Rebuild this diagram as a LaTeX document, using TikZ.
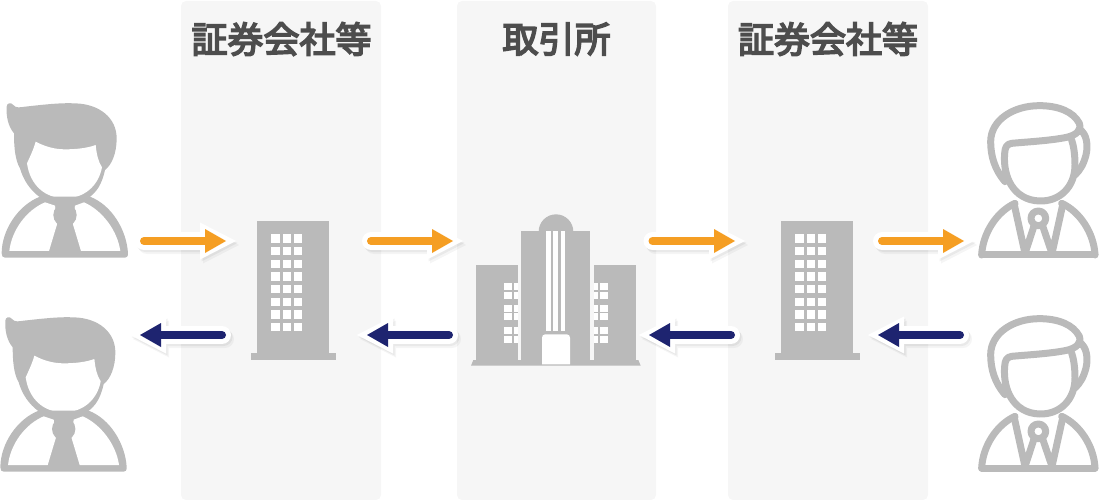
\documentclass[tikz,border=0pt]{standalone}
\usepackage{fontspec}
\newfontfamily\cjk[FakeBold=4.5]{Noto Sans CJK JP}
\usetikzlibrary{calc}
\definecolor{panelc}{HTML}{F6F6F6}
\definecolor{iconc}{HTML}{BABABA}
\definecolor{textc}{HTML}{4D4D4D}
\definecolor{orangec}{HTML}{F59E23}
\definecolor{navyc}{HTML}{1E2470}
\tikzset{
  panel/.style={fill=panelc,draw=none,rounded corners=5pt,minimum height=499pt,anchor=north,inner sep=0pt,outer sep=0pt},
  paneltitle/.style={font=\cjk\fontsize{36}{36}\selectfont,text=textc,inner sep=0pt},
  icon/.style={fill=iconc,draw=none},
  hole/.style={fill=white,draw=none},
  strokeicon/.style={draw=iconc,fill=none,line width=7pt,line join=round,line cap=round},
  pics/personA/.style={code={
    \begin{scope}[scale=1/3]
    \path[icon] (20,50) .. controls (20,40) and (32,35) .. (40,45) .. controls (48,55) and (60,52) .. (75,50)
      .. controls (130,44) and (180,38) .. (225,40) .. controls (300,42) and (350,85) .. (350,145)
      .. controls (350,190) and (335,225) .. (315,240) .. controls (305,285) and (290,305) .. (268,322)
      -- (120,322) .. controls (90,300) and (70,270) .. (60,235) .. controls (45,210) and (42,170) .. (42,130)
      .. controls (25,110) and (18,80) .. (20,50) -- cycle;
    \path[hole] (107,155) .. controls (135,170) and (165,178) .. (195,178) .. controls (225,178) and (260,175) .. (287,165)
      .. controls (290,195) and (295,215) .. (306,232) .. controls (295,290) and (250,325) .. (195,325)
      .. controls (135,325) and (90,285) .. (81,220) .. controls (90,200) and (100,180) .. (107,155) -- cycle;
    \path[icon] (5,490) .. controls (5,420) and (55,345) .. (120,320) -- (270,320)
      .. controls (335,345) and (380,420) .. (384,490) .. controls (384,500) and (380,503) .. (375,503)
      -- (15,503) .. controls (8,503) and (5,498) .. (5,490) -- cycle;
    \path[hole] (28,483) .. controls (35,420) and (80,360) .. (135,337) -- (165,347) -- (172,400) -- (147,483) -- cycle;
    \path[hole] (361,483) .. controls (352,420) and (305,360) .. (252,337) -- (225,347) -- (218,400) -- (243,483) -- cycle;
    \path[icon] (195,375) circle[radius=35];
    \end{scope}
  }},
  pics/personB/.style={code={
    \begin{scope}[scale=1/3]
    \draw[strokeicon] (135,275) .. controls (105,240) and (92,200) .. (92,155) .. controls (92,90) and (160,47) .. (238,47)
      .. controls (295,47) and (340,65) .. (358,100) .. controls (365,120) and (350,135) .. (320,142)
      .. controls (270,152) and (210,155) .. (155,160) .. controls (140,162) and (135,172) .. (134,190)
      .. controls (128,260) and (160,330) .. (238,333) .. controls (300,335) and (345,290) .. (345,225)
      .. controls (345,190) and (340,165) .. (335,150);
    \draw[strokeicon] (358,118) .. controls (380,130) and (385,165) .. (378,195) .. controls (370,225) and (360,240) .. (345,255);
    \draw[strokeicon] (65,495) -- (405,495);
    \draw[strokeicon] (65,495) .. controls (68,430) and (110,365) .. (165,340);
    \draw[strokeicon] (405,495) .. controls (402,430) and (360,365) .. (305,340);
    \draw[strokeicon] (163,345) -- (195,490) -- (222,408);
    \draw[strokeicon] (308,345) -- (276,490) -- (248,408);
    \draw[strokeicon] (235,385) circle[radius=22];
    \end{scope}
  }},
  pics/tower/.style={code={
    \begin{scope}[scale=1/3]
    \path[icon] (52,33) rectangle (268,430);
    \path[icon] (33,430) rectangle (287,450);
    \foreach \cx in {94,128,161}
      \foreach \cy in {73,111,149,187,225,263,301,339}
        \path[hole] (\cx,\cy) rectangle ++(25,25);
    \end{scope}
  }},
  pics/exchange/.style={code={
    \begin{scope}[scale=1/3]
    \path[icon] (47,180) rectangle (175,465);
    \path[icon] (402,180) rectangle (528,465);
    \path[icon] (183,78) rectangle (390,465);
    \path[icon] (236,80) arc[start angle=180,end angle=360,radius=52] -- cycle;
    \path[icon] (33,482) -- (40,465) -- (535,465) -- (542,482) -- cycle;
    \foreach \sx in {258,280,302}
      \path[hole] (\sx,78) rectangle ++(14,299);
    \path[hole] (246,478) -- (246,398) .. controls (246,392) and (250,388) .. (256,388) -- (320,388) .. controls (326,388) and (330,392) .. (330,398) -- (330,478) -- cycle;
    \foreach \wy in {235,260,300,325,366,392}{
      \path[hole] (132,\wy) rectangle ++(25,21);
      \path[hole] (162,\wy) rectangle ++(13,21);
      \path[hole] (402,\wy) rectangle ++(12,21);
      \path[hole] (419,\wy) rectangle ++(25,21);
    }
    \end{scope}
  }},
  flowline/.style={line width=8pt,line cap=round},
}
% connector from named tail to named tip: soft shadow, white halo, coloured arrow
% \flowshape{tail}{colour}{offset}
\newcommand{\flowshape}[3]{%
  \draw[line cap=round,line width=18pt,draw=#2] ($(#1)+(#3)$) -- ($(fb)+(#3)$);
  \path[fill=#2] ($(hb)!18.5pt!90:(#1)+(#3)$) -- ($(ht)+(#3)$) -- ($(hb)!18.5pt!-90:(#1)+(#3)$) -- cycle;
}
\newcommand{\flowarrow}[3]{%
  \coordinate (fb) at ($(#2)!21pt!(#1)$);
  \coordinate (hb) at ($(#2)!26pt!(#1)$);
  \coordinate (ht) at ($(#2)!-10pt!(#1)$);
  \begin{scope}[transparency group,opacity=.04]
    \flowshape{#1}{black}{3pt,-4pt}
  \end{scope}
  \begin{scope}[transparency group,opacity=.05]
    \flowshape{#1}{black}{1.5pt,-2pt}
  \end{scope}
  \flowshape{#1}{white}{0pt,0pt}
  \draw[flowline,draw=#3] (#1) -- (fb);
  \path[fill=#3] ($(fb)!12pt!90:(#2)$) -- (#2) -- ($(fb)!12pt!-90:(#2)$) -- cycle;
}
\begin{document}
\begin{tikzpicture}[x=1pt,y=-1pt]
\useasboundingbox (0,0) rectangle (1100,500);
\node[panel,minimum width=200pt] (p1) at (281,1) {};
\node[panel,minimum width=199pt] (p2) at (556.5,1) {};
\node[panel,minimum width=200pt] (p3) at (828,1) {};
\node[paneltitle] (t1) at (281.5,39) {証券会社等};
\node[paneltitle] (t2) at (556.5,39) {取引所};
\node[paneltitle] (t3) at (828,39) {証券会社等};

\path (0,90) pic {personA};
\path (-1.3,304) pic {personA};
\path (960,90) pic {personB};
\path (960,303) pic {personB};
\path (240,210) pic {tower};
\path (764,210) pic {tower};
\path (460,205) pic {exchange};

\coordinate (o1a) at (144,241); \coordinate (o1b) at (226,241);
\coordinate (o2a) at (371,241); \coordinate (o2b) at (453,241);
\coordinate (o3a) at (652.5,241); \coordinate (o3b) at (735,241);
\coordinate (o4a) at (882,241); \coordinate (o4b) at (964,241);
\coordinate (n1a) at (222,335); \coordinate (n1b) at (140,335);
\coordinate (n2a) at (449,335); \coordinate (n2b) at (367,335);
\coordinate (n3a) at (731,335); \coordinate (n3b) at (649,335);
\coordinate (n4a) at (960,335); \coordinate (n4b) at (878,335);
\flowarrow{o1a}{o1b}{orangec}
\flowarrow{o2a}{o2b}{orangec}
\flowarrow{o3a}{o3b}{orangec}
\flowarrow{o4a}{o4b}{orangec}
\flowarrow{n1a}{n1b}{navyc}
\flowarrow{n2a}{n2b}{navyc}
\flowarrow{n3a}{n3b}{navyc}
\flowarrow{n4a}{n4b}{navyc}
\end{tikzpicture}
\end{document}
